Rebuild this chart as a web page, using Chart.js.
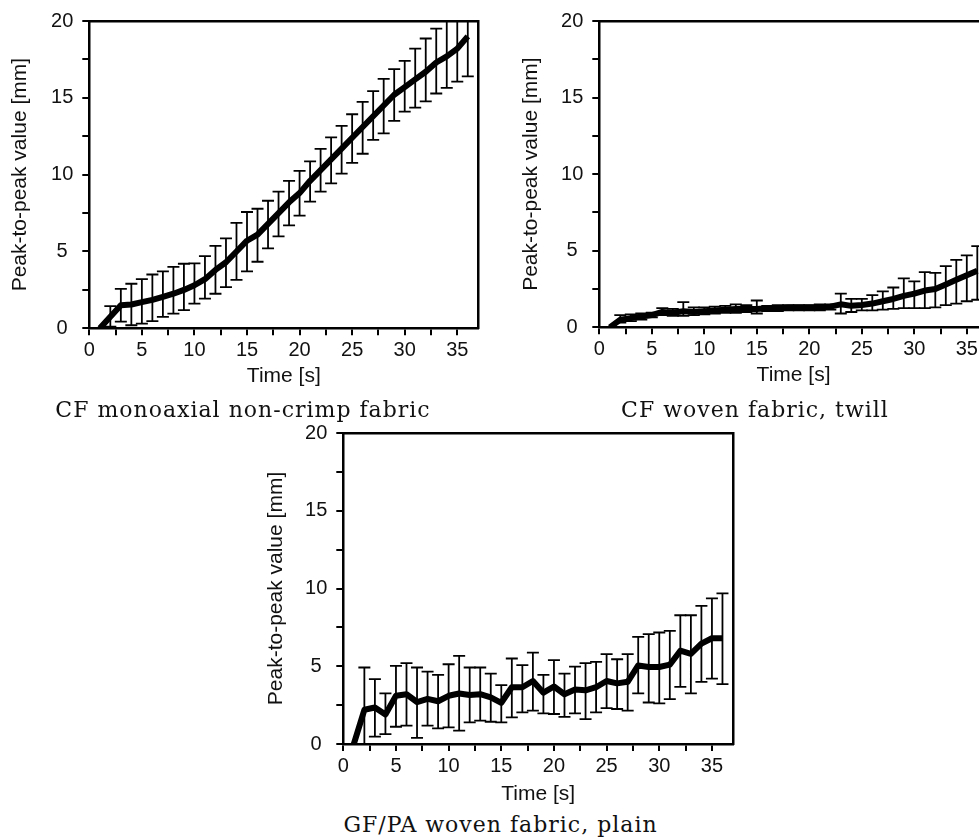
<!DOCTYPE html>
<html><head><meta charset="utf-8">
<script src="https://cdn.jsdelivr.net/npm/chart.js@4.4.1/dist/chart.umd.min.js"></script>
<style>
html,body{margin:0;padding:0;background:#fff;}
body{width:979px;height:839px;overflow:hidden;position:relative;}
canvas{position:absolute;}
.cap{position:absolute;font-family:"DejaVu Serif",serif;font-size:22px;letter-spacing:1px;line-height:22px;color:#111;text-align:center;white-space:nowrap;width:600px;}
</style></head><body>
<canvas id="c1"></canvas>
<canvas id="c2"></canvas>
<canvas id="c3"></canvas>
<div class="cap" id="cap1"></div>
<div class="cap" id="cap2"></div>
<div class="cap" id="cap3"></div>
<script>
// ---- data ----
const time = [1,2,3,4,5,6,7,8,9,10,11,12,13,14,15,16,17,18,19,20,21,22,23,24,25,26,27,28,29,30,31,32,33,34,35,36];
const xTickLabels = [0,5,10,15,20,25,30,35];
const yTickLabels = [0,5,10,15,20];
const captions = ["CF monoaxial non-crimp fabric","CF woven fabric, twill","GF/PA woven fabric, plain"];

// CF monoaxial non-crimp fabric
const mean1  = [0,0.75,1.5,1.55,1.7,1.85,2.05,2.25,2.5,2.8,3.2,3.8,4.3,5.0,5.7,6.1,6.8,7.5,8.2,8.8,9.6,10.3,11.0,11.7,12.4,13.1,13.8,14.5,15.2,15.7,16.2,16.7,17.3,17.7,18.2,19.0];
const upper1 = [null,1.44,2.57,2.9,3.2,3.5,3.7,4.0,4.2,4.22,4.7,5.36,5.85,6.86,7.57,7.78,8.3,8.9,9.6,10.25,10.87,11.68,12.43,13.18,13.93,14.73,15.43,16.23,16.87,17.4,18.2,18.86,19.5,20.1,20.6,21.4];
const lower1 = [null,0.1,0.43,0.2,0.3,0.47,0.75,0.96,1.18,1.6,1.93,2.25,2.68,3.15,3.7,4.33,5.2,5.98,6.7,7.33,8.25,8.9,9.43,10.07,10.76,11.36,12.26,12.69,13.5,14.1,14.36,14.77,15.28,15.65,16.05,16.4];

// CF woven fabric, twill
const mean2  = [0,0.5,0.6,0.7,0.8,1.0,0.95,1.05,1.0,1.05,1.1,1.15,1.2,1.2,1.2,1.25,1.25,1.3,1.3,1.3,1.3,1.35,1.5,1.4,1.45,1.55,1.7,1.85,2.05,2.2,2.4,2.5,2.8,3.1,3.4,3.7];
const upper2 = [null,0.8,0.85,0.9,0.95,1.25,1.2,1.65,1.3,1.3,1.35,1.4,1.5,1.45,1.75,1.4,1.45,1.45,1.45,1.45,1.5,1.5,2.2,1.85,1.85,2.1,2.35,2.6,3.2,3.0,3.6,3.55,4.0,4.4,4.7,5.3];
const lower2 = [null,0.3,0.4,0.5,0.65,0.8,0.75,0.75,0.8,0.85,0.9,0.95,0.95,1.0,0.9,1.05,1.05,1.1,1.1,1.1,1.1,1.15,0.9,1.0,1.1,1.1,1.15,1.2,1.25,1.25,1.25,1.3,1.45,1.55,1.7,1.8];

// GF/PA woven fabric, plain
const mean3  = [0,2.2,2.35,1.9,3.1,3.2,2.7,2.9,2.75,3.1,3.25,3.15,3.2,3.0,2.65,3.65,3.65,4.05,3.3,3.7,3.2,3.5,3.45,3.65,4.05,3.9,4.0,5.05,4.95,4.95,5.1,6.0,5.8,6.45,6.8,6.8];
const upper3 = [null,4.92,4.17,3.25,5.03,5.2,4.92,4.66,4.45,5.13,5.67,4.92,4.92,4.53,3.79,5.5,5.07,5.88,4.45,5.39,4.53,4.98,5.2,5.28,5.78,5.45,5.78,6.89,7.06,7.17,7.27,8.28,8.28,8.88,9.37,9.69];
const lower3 = [null,-0.5,0.47,0.64,1.11,1.18,0.39,1.18,1.0,1.07,0.86,1.39,1.5,1.43,1.39,1.71,2.03,2.14,1.97,1.93,1.75,1.97,1.6,2.03,2.31,2.25,2.14,3.25,2.67,2.61,2.89,3.68,3.25,4.0,4.21,3.85];

// ---- layout ----
const sansFont = '"Liberation Sans", Arial, sans-serif';
const ink = '#111';

function placeCaption(id, text, cx, baseline) {
  const d = document.getElementById(id);
  d.textContent = text;
  d.style.left = (cx - 300) + 'px';
  d.style.top = (baseline - 18.5) + 'px';
}

function buildChart(id, g, mean, upper, lower) {
  const cv = document.getElementById(id);
  cv.width = g.w; cv.height = g.h;
  cv.style.left = g.left + 'px'; cv.style.top = g.top + 'px';
  const stems = [], caps = [];
  time.forEach((t, i) => {
    if (upper[i] == null) return;
    stems.push({x: t, y: lower[i]}, {x: t, y: upper[i]}, {x: t, y: null});
    caps.push({x: t, y: lower[i]}, {x: t, y: upper[i]});
  });
  const tickFont = {family: sansFont, size: 20};
  const titleFont = {family: sansFont, size: 21};
  const tickGrid = {display: true, drawOnChartArea: false, drawTicks: true, tickLength: 7, lineWidth: 2, tickWidth: 2, color: '#000', tickColor: '#000'};
  const frame = {display: true, color: '#000', width: 2.5};
  new Chart(cv, {
    type: 'line',
    data: {datasets: [
      {data: time.map((t, i) => ({x: t, y: mean[i]})), borderColor: '#000', borderWidth: 6, pointRadius: 0, borderJoinStyle: 'round', tension: 0, order: 0},
      {data: stems, borderColor: '#000', borderWidth: 1.8, pointRadius: 0, spanGaps: false, order: 1},
      {data: caps, showLine: false, pointStyle: 'line', pointRadius: 6, pointBorderWidth: 1.8, pointBorderColor: '#000', pointBackgroundColor: '#000', order: 2}
    ]},
    options: {
      responsive: false, animation: false, devicePixelRatio: 1,
      events: [],
      layout: {padding: {top: g.padTop, right: g.padRight, left: 0, bottom: 0}},
      plugins: {legend: {display: false}, tooltip: {enabled: false}},
      scales: {
        x: {
          type: 'linear', position: 'bottom', min: 0, max: 37,
          afterFit(s) { s.height = g.xAxisH; },
          ticks: {stepSize: 2.5, includeBounds: false, autoSkip: false, maxRotation: 0, padding: 3, font: tickFont, color: ink,
            callback: v => xTickLabels.includes(v) ? String(v) : ''},
          grid: tickGrid, border: frame,
          title: {display: true, text: 'Time [s]', font: titleFont, color: ink, padding: {top: 0, bottom: g.xTitlePad}}
        },
        y: {
          type: 'linear', position: 'left', min: 0, max: 20,
          afterFit(s) { s.width = g.yAxisW; },
          ticks: {stepSize: 2.5, includeBounds: false, autoSkip: false, padding: 9, crossAlign: 'center', font: tickFont, color: ink,
            callback: v => yTickLabels.includes(v) ? String(v) : ''},
          grid: tickGrid, border: frame,
          title: {display: true, text: 'Peak-to-peak value [mm]', font: titleFont, color: ink, padding: {top: g.yTitlePad, bottom: 0}}
        },
        x2: {
          type: 'linear', position: 'top', min: 0, max: 37,
          afterFit(s) { s.height = 0; },
          ticks: {display: false}, grid: {display: false}, border: frame
        },
        y2: {
          type: 'linear', position: 'right', min: 0, max: 20,
          afterFit(s) { s.width = 0; },
          ticks: {display: false}, grid: {display: false}, border: frame
        }
      }
    }
  });
}

buildChart('c1', {left: 0, top: 0, w: 495, h: 395, padTop: 17.5, padRight: 16.7, yAxisW: 89.3, xAxisH: 66.7, xTitlePad: 5.9, yTitlePad: 7.4}, mean1, upper1, lower1);
buildChart('c2', {left: 510, top: 0, w: 490, h: 395, padTop: 19.3, padRight: 12.2, yAxisW: 89.3, xAxisH: 67.7, xTitlePad: 6.9, yTitlePad: 9}, mean2, upper2, lower2);
buildChart('c3', {left: 254, top: 412, w: 495, h: 400, padTop: 19.7, padRight: 16, yAxisW: 89.3, xAxisH: 68, xTitlePad: 4.9, yTitlePad: 9.9}, mean3, upper3, lower3);

placeCaption('cap1', captions[0], 243, 417);
placeCaption('cap2', captions[1], 755, 417);
placeCaption('cap3', captions[2], 500.5, 832);
</script>
</body></html>
